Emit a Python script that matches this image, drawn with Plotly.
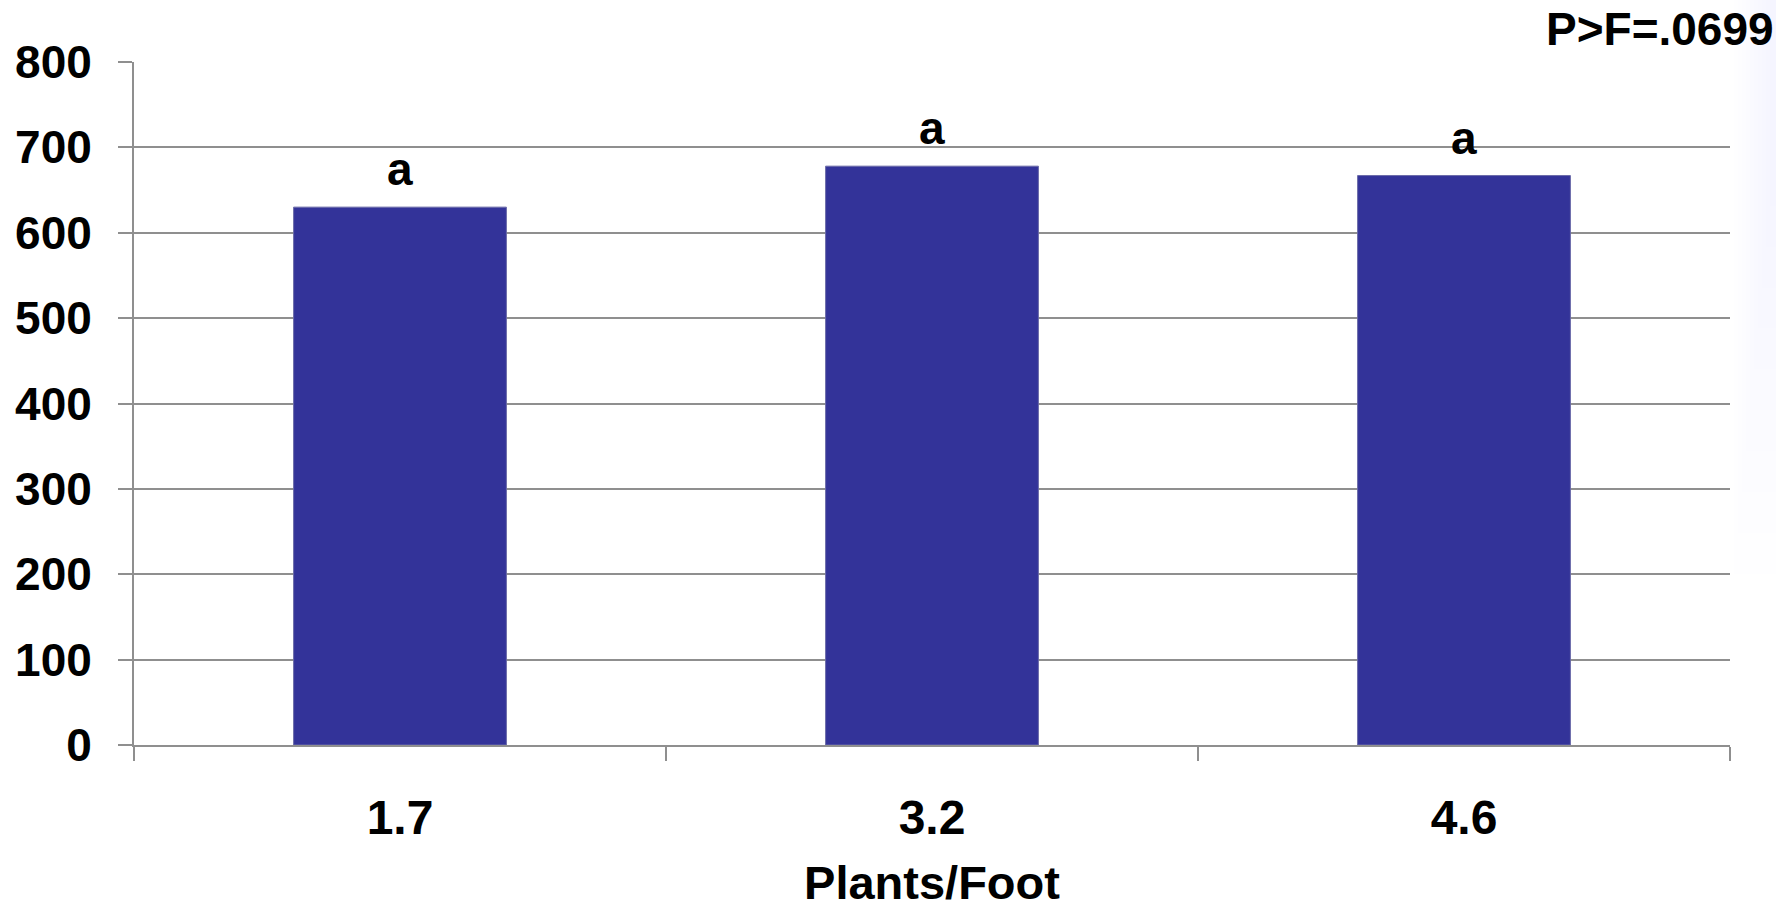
import plotly.graph_objects as go

# Stand density (plants per foot of row) and mean response per treatment
categories = ["1.7", "3.2", "4.6"]
values = [630, 678, 667]
letters = ["a", "a", "a"]
p_label = "P>F=.0699"
x_title = "Plants/Foot"
y_ticks = [0, 100, 200, 300, 400, 500, 600, 700, 800]

FONT = "Liberation Sans, Arial, sans-serif"
GRID = "#8f8f8f"
BAR = "#333399"

fig = go.Figure()
fig.add_trace(go.Bar(
    x=categories,
    y=values,
    width=0.4,
    marker=dict(color=BAR, line=dict(color="#6a6aa8", width=1)),
    hoverinfo="x+y",
))

# Mean-separation letters above each bar (category index positions)
for i, (v, t) in enumerate(zip(values, letters)):
    fig.add_annotation(
        x=i, y=v, text=t, showarrow=False,
        xanchor="center", yanchor="bottom", yshift=10,
        font=dict(family=FONT, size=46, color="black", weight="bold"),
    )

fig.add_annotation(
    xref="paper", yref="paper", x=1, y=1, text=p_label, showarrow=False,
    xanchor="right", yanchor="bottom", xshift=46, yshift=5,
    font=dict(family=FONT, size=46, color="black", weight="bold"),
)

# Faint slide-background tint along the right edge, fading in steps
steps = 10
for i in range(steps):
    fig.add_shape(
        type="rect", xref="paper", yref="paper", layer="below",
        x0=1 + (4 + 4 * i) / 1596, x1=1.05,
        y0=0.25 + 0.06 * i, y1=1.1,
        fillcolor="#c8d0f0", opacity=0.025, line=dict(width=0),
    )

fig.update_layout(
    width=1776, height=909,
    margin=dict(l=134, r=46, t=62, b=164, autoexpand=False),
    paper_bgcolor="white", plot_bgcolor="white",
    showlegend=False,
    font=dict(family=FONT, size=46, color="black", weight="bold"),
    xaxis=dict(
        type="category",
        range=[-0.5, 2.5],
        automargin=False,
        tickson="boundaries",
        ticks="outside", ticklen=14, tickwidth=2, tickcolor=GRID,
        showline=True, linecolor=GRID, linewidth=2,
        showgrid=False,
        tickfont=dict(family=FONT, size=48, color="black", weight="bold"),
        ticklabelstandoff=29,
        title=dict(text=x_title, standoff=39,
                   font=dict(family=FONT, size=47, color="black", weight="bold")),
    ),
    yaxis=dict(
        range=[0, 800],
        automargin=False,
        tickvals=y_ticks,
        ticks="outside", ticklen=14, tickwidth=2, tickcolor=GRID,
        showline=True, linecolor=GRID, linewidth=2,
        showgrid=True, gridcolor=GRID, gridwidth=2,
        zeroline=False,
        tickfont=dict(family=FONT, size=46, color="black", weight="bold"),
        ticklabelstandoff=17,
    ),
)

fig.write_html("out.html")
